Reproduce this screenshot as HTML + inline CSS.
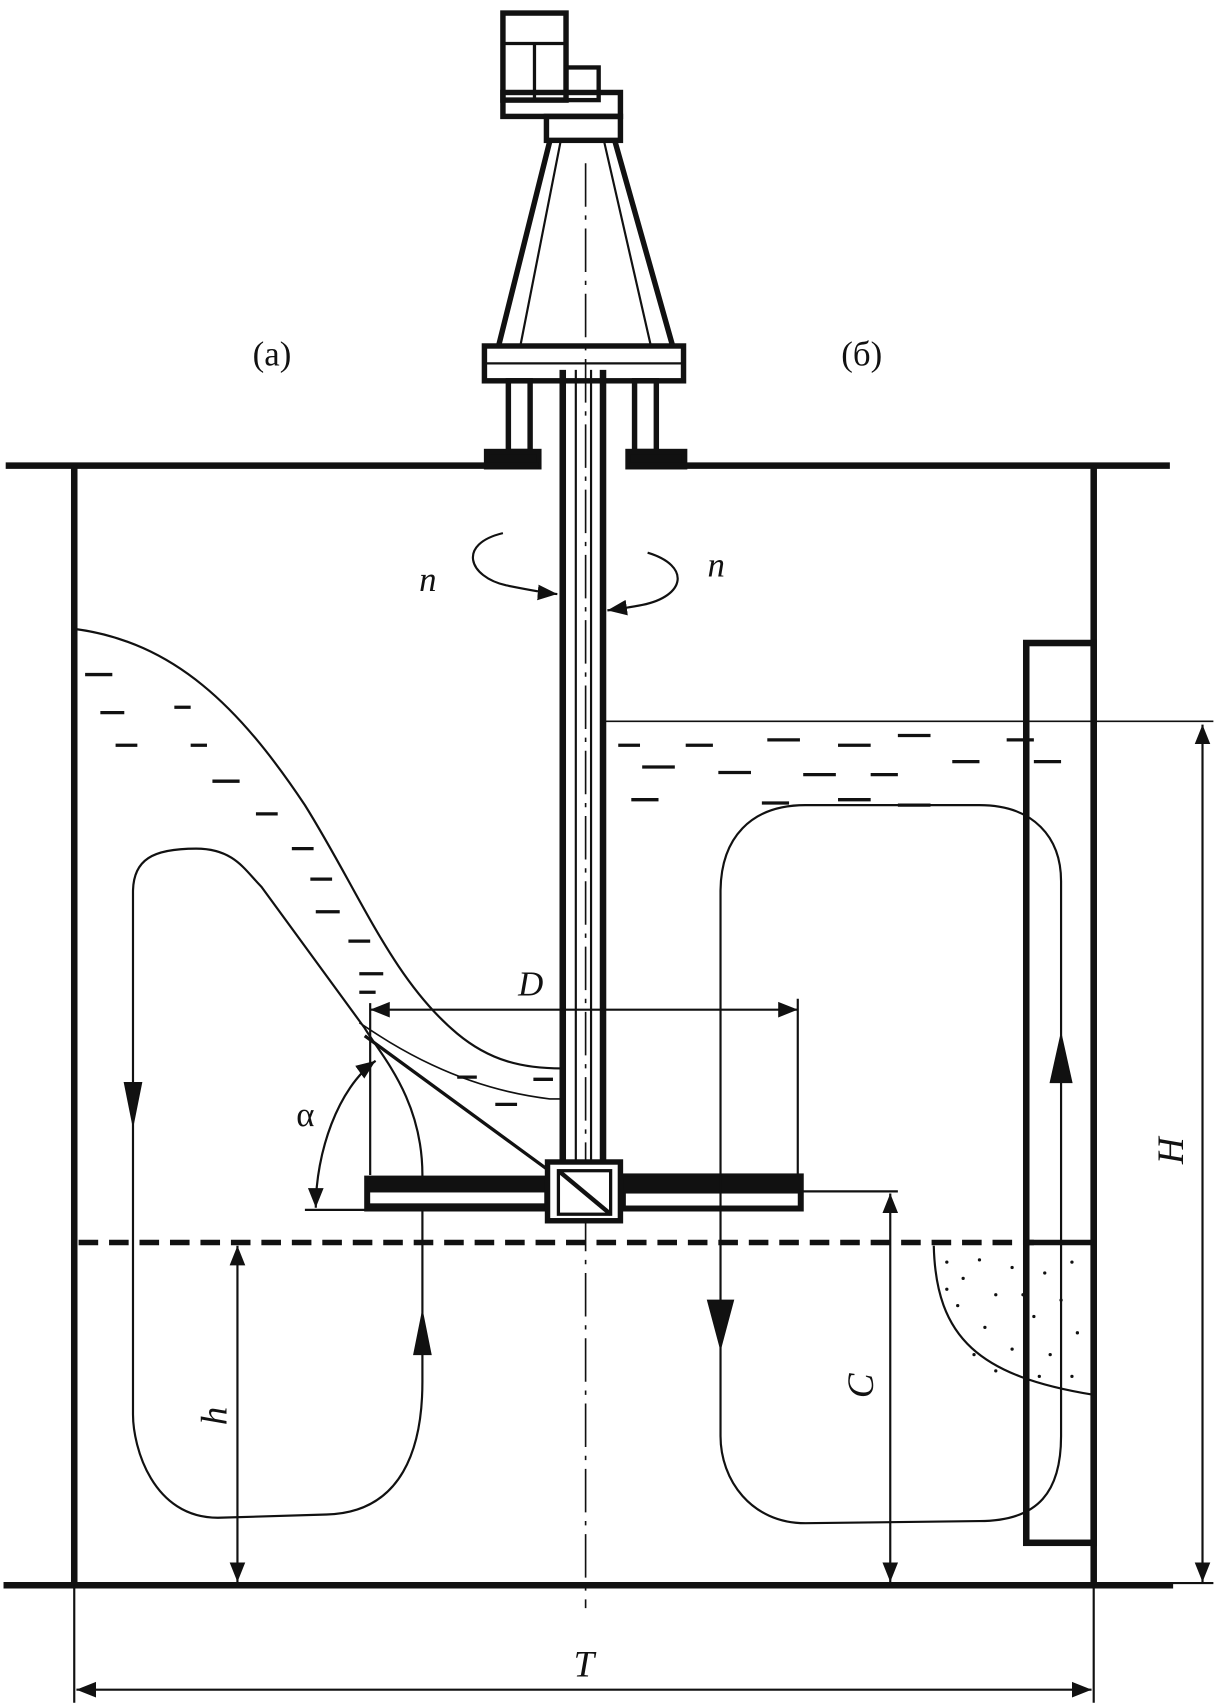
<!DOCTYPE html>
<html><head><meta charset="utf-8"><style>
html,body{margin:0;padding:0;background:#fff;}
svg{display:block}
text{font-family:"Liberation Serif",serif;fill:#111}
</style></head><body>
<svg width="1218" height="1706" viewBox="0 0 1119 1568" xmlns="http://www.w3.org/2000/svg">
<defs>
<marker id="ar" viewBox="0 0 10 10" refX="10" refY="5" markerWidth="9" markerHeight="9" orient="auto-start-reverse"><path d="M0,1 L10,5 L0,9 z" fill="#111"/></marker>
</defs>
<g stroke="#111" fill="none">
<!-- centerline -->
<line x1="538" y1="150" x2="538" y2="1478" stroke-width="1.5" stroke-dasharray="40,8,4,8"/>
<!-- motor -->
<rect x="462" y="12" width="58" height="80" stroke-width="5" fill="#fff"/>
<line x1="462" y1="40" x2="520" y2="40" stroke-width="3"/>
<line x1="491" y1="40" x2="491" y2="92" stroke-width="3"/>
<rect x="520" y="62" width="30" height="30" stroke-width="4"/>
<rect x="462" y="85" width="108" height="22" stroke-width="5"/>
<rect x="502" y="107" width="68" height="22" stroke-width="5"/>
<path d="M505,130 L458,318 M565,130 L618,318" stroke-width="5"/>
<path d="M515,130 L478,318 M555,130 L598,318" stroke-width="2"/>
<rect x="445" y="318" width="183" height="32" stroke-width="5"/>
<line x1="445" y1="334" x2="628" y2="334" stroke-width="2"/>
<rect x="467" y="350" width="20" height="65" stroke-width="5"/>
<rect x="583" y="350" width="20" height="65" stroke-width="5"/>
<rect x="447" y="415" width="48" height="14" stroke-width="5" fill="#111"/>
<rect x="577" y="415" width="52" height="14" stroke-width="5" fill="#111"/>
<!-- tank -->
<line x1="5" y1="428" x2="495" y2="428" stroke-width="6"/>
<line x1="578" y1="428" x2="1075" y2="428" stroke-width="6"/>
<line x1="68" y1="428" x2="68" y2="1457" stroke-width="6"/>
<line x1="1005" y1="428" x2="1005" y2="1457" stroke-width="6"/>
<line x1="3" y1="1457" x2="1078" y2="1457" stroke-width="6"/>
<!-- shaft -->
<line x1="517" y1="340" x2="517" y2="1070" stroke-width="6"/>
<line x1="554" y1="340" x2="554" y2="1070" stroke-width="6"/>
<line x1="529" y1="340" x2="529" y2="1070" stroke-width="2"/>
<line x1="543" y1="340" x2="543" y2="1070" stroke-width="2"/>
<!-- n arrows -->
<path d="M462,490 C420,500 430,530 465,538 C485,542 500,545 512,546" stroke-width="2" marker-end="url(#ar)"/>
<path d="M595,508 C635,520 630,548 590,556 C575,559 565,560 558,561" stroke-width="2" marker-end="url(#ar)"/>
<!-- left liquid -->
<path d="M68,578 C160,590 220,650 280,740 C330,820 360,900 420,950 C450,975 480,982 516,982" stroke-width="2"/>
<path d="M330,940 C360,960 420,1000 505,1010 L516,1010" stroke-width="1.5" fill="none"/>
<g stroke-width="3">
<path d="M78,620h25 M92,655h22 M160,650h15 M106,685h20 M175,685h15 M195,718h25 M235,748h20 M268,780h20 M285,808h20 M290,838h22 M320,865h20 M330,895h22 M330,912h15 M420,990h18 M455,1015h20 M490,992h18"/>
</g>
<!-- left loop -->
<path d="M122,1000 L122,820 C122,790 140,780 180,780 C215,780 225,800 240,815 L335,945 C350,970 388,1010 388,1080 L388,1270 C388,1330 370,1390 300,1392 L200,1395 C140,1395 122,1330 122,1300 L122,1000" stroke-width="2"/>
<path d="M114,995 L130,995 L122,1035 z" fill="#111"/>
<path d="M380,1245 L396,1245 L388,1205 z" fill="#111"/>
<!-- angle line and alpha -->
<line x1="335" y1="952" x2="510" y2="1080" stroke-width="3"/>
<path d="M345,975 C310,1000 290,1060 290,1110" stroke-width="2" marker-start="url(#ar)" marker-end="url(#ar)"/>
<line x1="280" y1="1112" x2="340" y2="1112" stroke-width="2"/>
<!-- D -->
<line x1="340" y1="928" x2="733" y2="928" stroke-width="2" marker-start="url(#ar)" marker-end="url(#ar)"/>
<line x1="340" y1="922" x2="340" y2="1080" stroke-width="2"/>
<line x1="733" y1="918" x2="733" y2="1080" stroke-width="2"/>
<!-- impeller -->
<rect x="336" y="1082" width="168" height="30" stroke-width="3" fill="#111"/>
<rect x="340" y="1096" width="160" height="10" stroke-width="0" fill="#fff"/>
<rect x="570" y="1080" width="167" height="32" stroke-width="3" fill="#111"/>
<rect x="575" y="1097" width="158" height="11" stroke-width="0" fill="#fff"/>
<rect x="503" y="1068" width="67" height="54" stroke-width="5" fill="#fff"/>
<rect x="513" y="1076" width="48" height="40" stroke-width="3"/>
<line x1="513" y1="1076" x2="561" y2="1116" stroke-width="4"/>
<!-- dashed level -->
<line x1="72" y1="1142" x2="950" y2="1142" stroke-width="5" stroke-dasharray="18,10"/>
<!-- right liquid -->
<line x1="554" y1="663" x2="1005" y2="663" stroke-width="1.5"/>
<line x1="1005" y1="663" x2="1115" y2="663" stroke-width="1.5"/>
<g stroke-width="3">
<path d="M568,685h20 M630,685h25 M705,680h30 M770,685h30 M825,676h30 M925,680h25 M590,705h30 M660,710h30 M738,712h30 M800,712h25 M875,700h25 M950,700h25 M580,735h25 M700,738h25 M770,735h30 M825,740h30"/>
</g>
<!-- right loop -->
<path d="M662,1200 L662,820 C662,770 690,740 740,740 L900,740 C950,740 975,770 975,810 L975,1320 C975,1370 955,1398 900,1398 L740,1400 C690,1400 662,1360 662,1320 L662,1200" stroke-width="2"/>
<path d="M650,1195 L674,1195 L662,1240 z" fill="#111"/>
<path d="M965,995 L985,995 L975,950 z" fill="#111"/>
<!-- baffle -->
<rect x="943" y="591" width="62" height="827" stroke-width="6" fill="none"/>
<line x1="943" y1="1142" x2="1005" y2="1142" stroke-width="5"/>
<!-- sediment -->
<path d="M858,1145 C860,1230 900,1265 1005,1282" stroke-width="2"/>
<g fill="#111" stroke="none">
<circle cx="870" cy="1160" r="1.5"/><circle cx="885" cy="1175" r="1.5"/><circle cx="900" cy="1158" r="1.5"/><circle cx="915" cy="1190" r="1.5"/><circle cx="880" cy="1200" r="1.5"/><circle cx="930" cy="1165" r="1.5"/><circle cx="960" cy="1170" r="1.5"/><circle cx="985" cy="1160" r="1.5"/><circle cx="975" cy="1195" r="1.5"/><circle cx="950" cy="1210" r="1.5"/><circle cx="905" cy="1220" r="1.5"/><circle cx="930" cy="1240" r="1.5"/><circle cx="965" cy="1245" r="1.5"/><circle cx="990" cy="1225" r="1.5"/><circle cx="955" cy="1265" r="1.5"/><circle cx="985" cy="1265" r="1.5"/><circle cx="895" cy="1245" r="1.5"/><circle cx="870" cy="1185" r="1.5"/><circle cx="940" cy="1190" r="1.5"/><circle cx="915" cy="1260" r="1.5"/>
</g>
<!-- H -->
<line x1="1105" y1="666" x2="1105" y2="1454" stroke-width="2" marker-start="url(#ar)" marker-end="url(#ar)"/>
<line x1="1005" y1="1455" x2="1115" y2="1455" stroke-width="2"/>
<!-- C -->
<line x1="738" y1="1095" x2="825" y2="1095" stroke-width="2"/>
<line x1="818" y1="1097" x2="818" y2="1454" stroke-width="2" marker-start="url(#ar)" marker-end="url(#ar)"/>
<!-- h -->
<line x1="218" y1="1145" x2="218" y2="1454" stroke-width="2" marker-start="url(#ar)" marker-end="url(#ar)"/>
<!-- T -->
<line x1="68" y1="1457" x2="68" y2="1565" stroke-width="2"/>
<line x1="1005" y1="1457" x2="1005" y2="1565" stroke-width="2"/>
<line x1="70" y1="1553" x2="1003" y2="1553" stroke-width="2" marker-start="url(#ar)" marker-end="url(#ar)"/>
</g>
<text x="232" y="336" font-size="32">(а)</text>
<text x="773" y="336" font-size="32">(б)</text>
<text x="385" y="543" font-size="32" font-style="italic">n</text>
<text x="650" y="530" font-size="32" font-style="italic">n</text>
<text x="476" y="915" font-size="32" font-style="italic">D</text>
<text x="272" y="1035" font-size="32">α</text>
<text x="1532" y="-1063" font-size="34" font-style="italic" transform="rotate(-90) translate(-2600,0) scale(1)" style="display:none">H</text>
<text font-size="34" font-style="italic" transform="translate(1087,1070) rotate(-90)">H</text>
<text font-size="34" font-style="italic" transform="translate(802,1285) rotate(-90)">C</text>
<text font-size="34" font-style="italic" transform="translate(208,1310) rotate(-90)">h</text>
<text x="527" y="1541" font-size="34" font-style="italic">T</text>
</svg>
</body></html>
